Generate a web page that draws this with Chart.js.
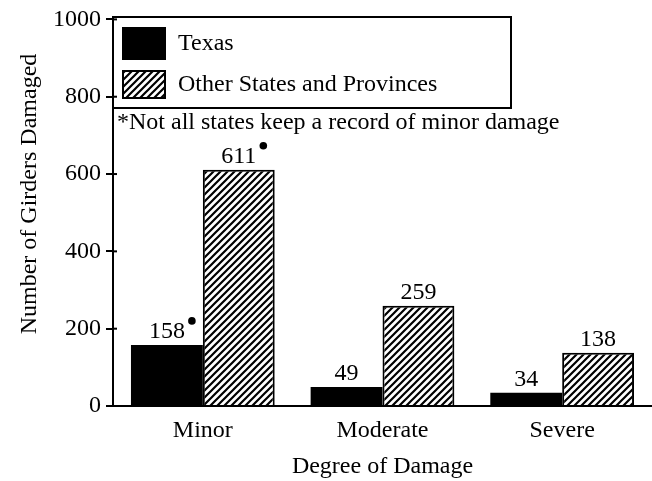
<!DOCTYPE html>
<html>
<head>
<meta charset="utf-8">
<script src="https://cdn.jsdelivr.net/npm/chart.js@4.4.0/dist/chart.umd.min.js"></script>
<style>
  html, body { margin: 0; padding: 0; background: #fff; }
  canvas { display: block; }
</style>
</head>
<body>
<canvas id="girderChart" width="652" height="481"></canvas>
<script>
const categories = ['Minor', 'Moderate', 'Severe'];
const texasValues = [158, 49, 34];
const otherValues = [611, 259, 138];
const seriesNames = ['Texas', 'Other States and Provinces'];
const yTicks = [0, 200, 400, 600, 800, 1000];
const starredCategory = 'Minor';
const footnote = '*Not all states keep a record of minor damage';
const yTitle = 'Number of Girders Damaged';
const xTitle = 'Degree of Damage';

const FONT = '"Liberation Serif", "Times New Roman", serif';
const SIZE = 24;

const canvas = document.getElementById('girderChart');
const ctx = canvas.getContext('2d');

// diagonal "///" hatch used for the second series
function makeHatch(target) {
    const s = 7;
    const c = document.createElement('canvas');
    c.width = s;
    c.height = s;
    const g = c.getContext('2d');
    g.fillStyle = '#fff';
    g.fillRect(0, 0, s, s);
    g.strokeStyle = '#000';
    g.lineWidth = 2.2;
    g.beginPath();
    g.moveTo(-1, s + 1); g.lineTo(s + 1, -1);
    g.moveTo(-1, 1); g.lineTo(1, -1);
    g.moveTo(s - 1, s + 1); g.lineTo(s + 1, s - 1);
    g.stroke();
    return target.createPattern(c, 'repeat');
}
const hatch = makeHatch(ctx);

const decorations = {
    id: 'decorations',
    afterDraw(chart) {
        const c = chart.ctx;
        const left = chart.chartArea.left;
        const yScale = chart.scales.y;
        c.save();
        c.strokeStyle = '#000';
        c.fillStyle = '#000';

        // inner half of the crossing tick marks
        c.lineWidth = 2;
        yTicks.forEach(v => {
            const py = yScale.getPixelForValue(v);
            c.beginPath();
            c.moveTo(left, py);
            c.lineTo(left + 4, py);
            c.stroke();
        });

        // value labels above the bars
        c.font = SIZE + 'px ' + FONT;
        c.textAlign = 'center';
        c.textBaseline = 'alphabetic';
        chart.data.datasets.forEach((ds, di) => {
            chart.getDatasetMeta(di).data.forEach((bar, i) => {
                const txt = String(ds.data[i]);
                c.fillText(txt, bar.x, bar.y - 7);
                if (categories[i] === starredCategory) {
                    const w = c.measureText(txt).width;
                    c.beginPath();
                    c.arc(bar.x + w / 2 + 7, bar.y - 24, 3.8, 0, Math.PI * 2);
                    c.fill();
                }
            });
        });

        // legend box
        c.lineWidth = 2;
        c.strokeRect(113, 17, 398, 91);
        c.fillRect(122, 27, 44, 33);
        c.fillStyle = hatch;
        c.fillRect(122, 70, 44, 29);
        c.strokeRect(123, 71, 42, 27);
        c.fillStyle = '#000';
        c.textAlign = 'left';
        c.textBaseline = 'middle';
        c.fillText(seriesNames[0], 178, 44);
        c.fillText(seriesNames[1], 178, 85);

        // footnote
        c.textBaseline = 'alphabetic';
        c.fillText(footnote, 117, 129);

        // y axis title
        c.translate(30, 194);
        c.rotate(-Math.PI / 2);
        c.textAlign = 'center';
        c.textBaseline = 'middle';
        c.fillText(yTitle, 0, 0);
        c.restore();
    }
};

new Chart(ctx, {
    type: 'bar',
    data: {
        labels: categories,
        datasets: [
            {
                label: seriesNames[0],
                data: texasValues,
                backgroundColor: '#000',
                borderColor: '#000',
                borderWidth: 0
            },
            {
                label: seriesNames[1],
                data: otherValues,
                backgroundColor: hatch,
                borderColor: '#000',
                borderWidth: 2
            }
        ]
    },
    options: {
        responsive: false,
        animation: false,
        layout: { padding: { top: 18, right: 0, bottom: 0, left: 0 } },
        datasets: { bar: { categoryPercentage: 0.8, barPercentage: 1 } },
        plugins: {
            legend: { display: false },
            tooltip: { enabled: false }
        },
        scales: {
            x: {
                grid: { display: false, drawTicks: false },
                border: { display: true, color: '#000', width: 2 },
                ticks: { color: '#000', font: { family: FONT, size: SIZE }, padding: 10 },
                title: { display: true, text: xTitle, color: '#000', font: { family: FONT, size: SIZE }, padding: 0 },
                afterFit(s) { s.height = 75; }
            },
            y: {
                min: 0,
                max: 1000,
                afterBuildTicks(s) { s.ticks = yTicks.map(v => ({ value: v })); },
                grid: { drawOnChartArea: false, color: '#000', lineWidth: 2, tickLength: 7 },
                border: { color: '#000', width: 2 },
                ticks: {
                    color: '#000',
                    font: { family: FONT, size: SIZE },
                    padding: 5,
                    callback: v => String(v)
                },
                afterFit(s) { s.width = 113; }
            }
        }
    },
    plugins: [decorations]
});
</script>
</body>
</html>
